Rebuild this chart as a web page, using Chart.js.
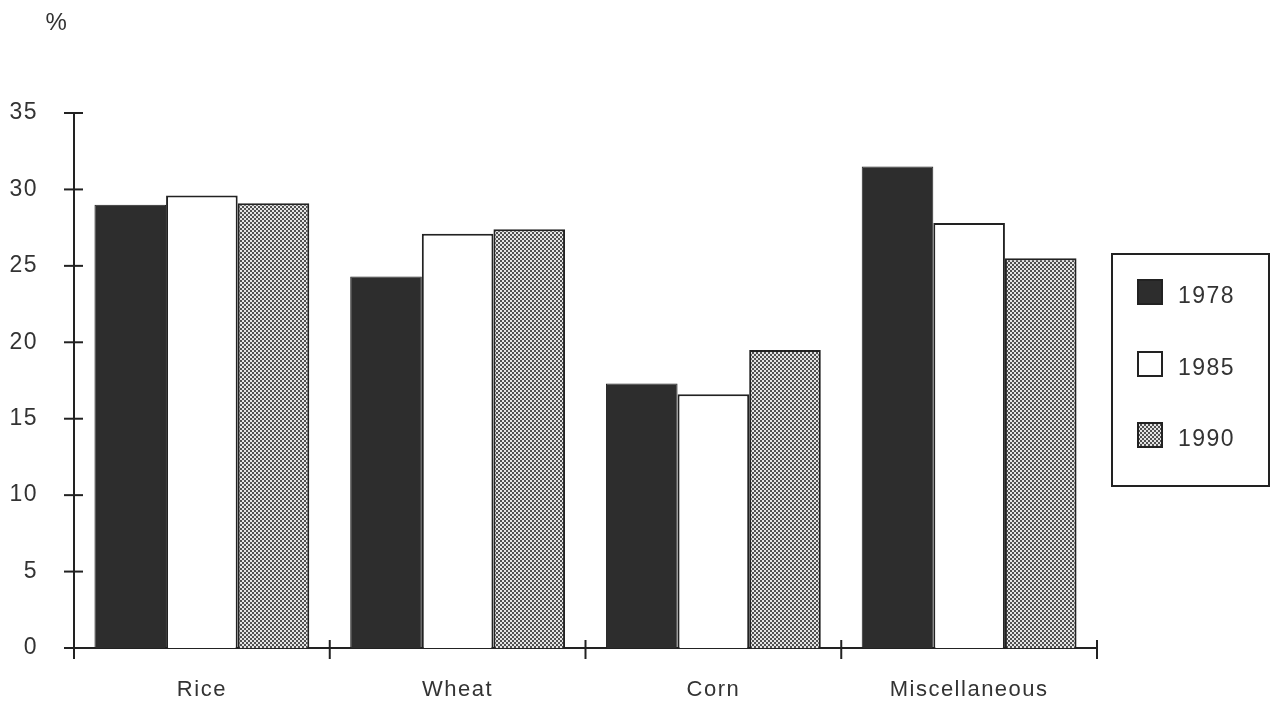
<!DOCTYPE html>
<html>
<head>
<meta charset="utf-8">
<script src="https://cdn.jsdelivr.net/npm/chart.js@4.4.0/dist/chart.umd.min.js"></script>
<style>
  body { margin: 0; background: #fff; }
  canvas { display: block; }
</style>
</head>
<body>
<canvas id="grafico" width="1272" height="708"></canvas>
<script>
// datos
const categories = ['Rice', 'Wheat', 'Corn', 'Miscellaneous'];
const years = ['1978', '1985', '1990'];
const values1978 = [29.0, 24.3, 17.3, 31.5];
const values1985 = [29.6, 27.1, 16.6, 27.8];
const values1990 = [29.1, 27.4, 19.5, 25.5];
const yTicks = [0, 5, 10, 15, 20, 25, 30, 35];

const FONT = '"Liberation Sans", Arial, sans-serif';
const INK = '#222';

// trama de cuadritos para 1990
function dotPattern() {
    const c = document.createElement('canvas');
    c.width = 4; c.height = 4;
    const g = c.getContext('2d');
    g.fillStyle = '#e4e4e4';
    g.fillRect(0, 0, 4, 4);
    g.fillStyle = '#505050';
    g.fillRect(0, 0, 2, 2);
    g.fillRect(2, 2, 2, 2);
    return g.createPattern(c, 'repeat');
}

// texto un poco espaciado como el original
const spacing = {
    id: 'spacing',
    beforeDraw(chart) {
        chart.ctx.letterSpacing = '1.5px';
    }
};

// marcas que cruzan los ejes, "%" y la leyenda con marco
const extras = {
    id: 'extras',
    afterDraw(chart) {
        const ctx = chart.ctx;
        const x = chart.scales.x, y = chart.scales.y;
        ctx.save();
        ctx.strokeStyle = INK;
        ctx.lineWidth = 2;
        yTicks.forEach(v => {
            const py = y.getPixelForValue(v);
            ctx.beginPath();
            ctx.moveTo(y.right - 10, py);
            ctx.lineTo(y.right + 9, py);
            ctx.stroke();
        });
        for (let i = 0; i <= categories.length; i++) {
            const px = x.getPixelForValue(i - 0.5);
            ctx.beginPath();
            ctx.moveTo(px, x.top - 8);
            ctx.lineTo(px, x.top + 11);
            ctx.stroke();
        }

        ctx.fillStyle = '#333';
        ctx.font = '24px ' + FONT;
        ctx.textAlign = 'center';
        ctx.textBaseline = 'middle';
        ctx.fillText('%', 57, 23);

        // leyenda
        ctx.lineWidth = 2;
        ctx.strokeStyle = INK;
        ctx.strokeRect(1112, 254, 157, 232);
        ctx.font = '23px ' + FONT;
        const rows = [292, 364, 435];
        chart.data.datasets.forEach((ds, i) => {
            const cy = rows[i];
            ctx.fillStyle = ds.backgroundColor;
            ctx.fillRect(1137, cy - 13, 26, 26);
            ctx.lineWidth = 2;
            ctx.strokeStyle = INK;
            ctx.strokeRect(1138, cy - 12, 24, 24);
            ctx.fillStyle = '#333';
            ctx.textAlign = 'left';
            ctx.fillText(ds.label, 1178, cy + 5);
        });
        ctx.restore();
    }
};

const ctx = document.getElementById('grafico').getContext('2d');
new Chart(ctx, {
    type: 'bar',
    data: {
        labels: categories,
        datasets: [
            { label: years[0], data: values1978, backgroundColor: '#2d2d2d', borderColor: INK, borderWidth: 1 },
            { label: years[1], data: values1985, backgroundColor: '#ffffff', borderColor: INK, borderWidth: 2 },
            { label: years[2], data: values1990, backgroundColor: dotPattern(), borderColor: INK, borderWidth: 2 }
        ]
    },
    options: {
        responsive: false,
        animation: false,
        categoryPercentage: 0.84,
        barPercentage: 1.0,
        layout: { padding: { top: 113, right: 175, left: 0, bottom: 0 } },
        plugins: {
            legend: { display: false },
            tooltip: { enabled: false }
        },
        scales: {
            y: {
                min: 0,
                max: 35,
                afterFit: s => { s.width = 74; },
                afterBuildTicks: s => { s.ticks = yTicks.map(v => ({ value: v })); },
                border: { display: true, color: INK, width: 2 },
                grid: { display: false, drawTicks: false },
                ticks: {
                    padding: 36,
                    color: '#333',
                    font: { family: FONT, size: 23 }
                }
            },
            x: {
                afterFit: s => { s.height = 60; },
                border: { display: true, color: INK, width: 2 },
                grid: { display: false, drawTicks: false },
                ticks: {
                    padding: 29,
                    color: '#333',
                    font: { family: FONT, size: 22 }
                }
            }
        }
    },
    plugins: [spacing, extras]
});
</script>
</body>
</html>
